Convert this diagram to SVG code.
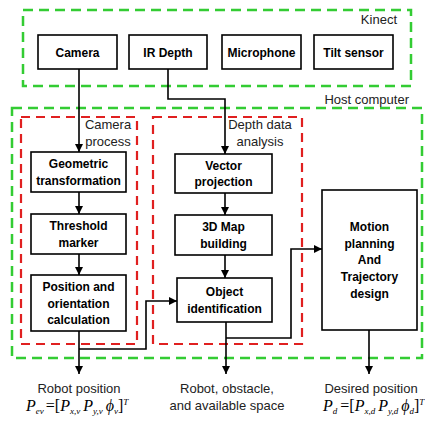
<svg xmlns="http://www.w3.org/2000/svg" width="425" height="423" viewBox="0 0 425 423">
<defs>
<marker id="arr" viewBox="0 0 10 10" refX="10" refY="5" markerWidth="8" markerHeight="8" markerUnits="userSpaceOnUse" orient="auto"><path d="M0,0 L10,5 L0,10 z" fill="#000"/></marker>
</defs>
<style>
.green{fill:none;stroke:#33cc33;stroke-width:2.5;stroke-dasharray:10 6}
.red{fill:none;stroke:#e02020;stroke-width:2.2;stroke-dasharray:9 6}
.box{fill:#fff;stroke:#000;stroke-width:1.6}
.bt{font-family:"Liberation Sans",Arial,sans-serif;font-size:12px;font-weight:bold;text-anchor:middle;fill:#000}
.lt{font-family:"Liberation Sans",Arial,sans-serif;font-size:13px;fill:#222}
.ct{text-anchor:middle}
.conn path{fill:none;stroke:#000;stroke-width:1.6}
.math{font-family:"Liberation Serif","Times New Roman",serif;font-size:16px;font-style:italic;fill:#000}
.sub{font-size:9px}
.up{font-style:normal}
</style>
<rect width="425" height="423" fill="#fff"/>
<g id="kinect">
<rect class="green" x="23" y="10" width="388" height="76"/>
<text class="lt" x="397" y="24" text-anchor="end">Kinect</text>
</g>
<g id="host">
<rect class="green" x="12" y="108" width="410" height="250"/>
<text class="lt" x="409" y="104" text-anchor="end">Host computer</text>
</g>
<g id="camera-process">
<rect class="red" x="21" y="117" width="116" height="227"/>
<text class="lt ct" x="108" y="129">Camera</text>
<text class="lt ct" x="108" y="146">process</text>
</g>
<g id="depth-analysis">
<rect class="red" x="153" y="117" width="149" height="227"/>
<text class="lt ct" x="260" y="129">Depth data</text>
<text class="lt ct" x="260" y="146">analysis</text>
</g>
<g id="camera"><rect class="box" x="38" y="35" width="79" height="34"/><text class="bt" x="77.5" y="56.5">Camera</text></g>
<g id="ir-depth"><rect class="box" x="129" y="35" width="78" height="34"/><text class="bt" x="168" y="56.5">IR Depth</text></g>
<g id="microphone"><rect class="box" x="222" y="35" width="79" height="34"/><text class="bt" x="261.5" y="56.5">Microphone</text></g>
<g id="tilt-sensor"><rect class="box" x="314" y="35" width="79" height="34"/><text class="bt" x="353.5" y="56.5">Tilt sensor</text></g>
<g id="geometric"><rect class="box" x="31" y="152" width="95" height="40"/><text class="bt" x="78.5" y="167.5">Geometric</text><text class="bt" x="78.5" y="184.5">transformation</text></g>
<g id="threshold"><rect class="box" x="31" y="214" width="95" height="40"/><text class="bt" x="78.5" y="229.5">Threshold</text><text class="bt" x="78.5" y="246.5">marker</text></g>
<g id="position"><rect class="box" x="31" y="275" width="95" height="56"/><text class="bt" x="78.5" y="290.5">Position and</text><text class="bt" x="78.5" y="307.5">orientation</text><text class="bt" x="78.5" y="324">calculation</text></g>
<g id="vector"><rect class="box" x="175" y="154" width="97" height="39"/><text class="bt" x="223.5" y="169.5">Vector</text><text class="bt" x="223.5" y="186">projection</text></g>
<g id="map"><rect class="box" x="175" y="215" width="97" height="40"/><text class="bt" x="223.5" y="230.5">3D Map</text><text class="bt" x="223.5" y="247.5">building</text></g>
<g id="object"><rect class="box" x="177" y="278" width="95" height="44"/><text class="bt" x="224.5" y="296">Object</text><text class="bt" x="224.5" y="312.5">identification</text></g>
<g id="motion"><rect class="box" x="322" y="190" width="95" height="140"/><text class="bt" x="369.5" y="231">Motion</text><text class="bt" x="369.5" y="247.5">planning</text><text class="bt" x="369.5" y="264">And</text><text class="bt" x="369.5" y="281">Trajectory</text><text class="bt" x="369.5" y="297.5">design</text></g>
<g class="conn" id="connectors">
<path d="M79,69 V152" marker-end="url(#arr)"/>
<path d="M79,192 V214" marker-end="url(#arr)"/>
<path d="M79,254 V275" marker-end="url(#arr)"/>
<path d="M168,69 V99 H225 V154" marker-end="url(#arr)"/>
<path d="M225,193 V215" marker-end="url(#arr)"/>
<path d="M225,255 V278" marker-end="url(#arr)"/>
<path d="M79,331 V374" marker-end="url(#arr)"/>
<path d="M79,349 H146 V301 H177" marker-end="url(#arr)"/>
<path d="M226,322 V374" marker-end="url(#arr)"/>
<path d="M226,338 H291 V249 H322" marker-end="url(#arr)"/>
<path d="M369,330 V374" marker-end="url(#arr)"/>
</g>
<g id="outputs">
<text class="lt ct" x="79" y="393">Robot position</text>
<text class="math" x="26" y="411">P<tspan class="sub" dy="3">ev</tspan><tspan class="up" dx="2" dy="-3">=[</tspan>P<tspan class="sub" dy="3">x,v</tspan><tspan dx="3" dy="-3">P</tspan><tspan class="sub" dy="3">y,v</tspan><tspan dx="3" dy="-3">ϕ</tspan><tspan class="sub" dy="3">v</tspan><tspan class="up" dy="-3">]</tspan><tspan class="sub" dy="-6">T</tspan></text>
<text class="lt ct" x="227" y="393">Robot, obstacle,</text>
<text class="lt ct" x="227" y="410">and available space</text>
<text class="lt ct" x="371" y="393">Desired position</text>
<text class="math" x="323" y="411">P<tspan class="sub" dy="3">d</tspan><tspan class="up" dx="3" dy="-3">=[</tspan>P<tspan class="sub" dy="3">x,d</tspan><tspan dx="3" dy="-3">P</tspan><tspan class="sub" dy="3">y,d</tspan><tspan dx="3" dy="-3">ϕ</tspan><tspan class="sub" dy="3">d</tspan><tspan class="up" dy="-3">]</tspan><tspan class="sub" dy="-6">T</tspan></text>
</g>
</svg>
